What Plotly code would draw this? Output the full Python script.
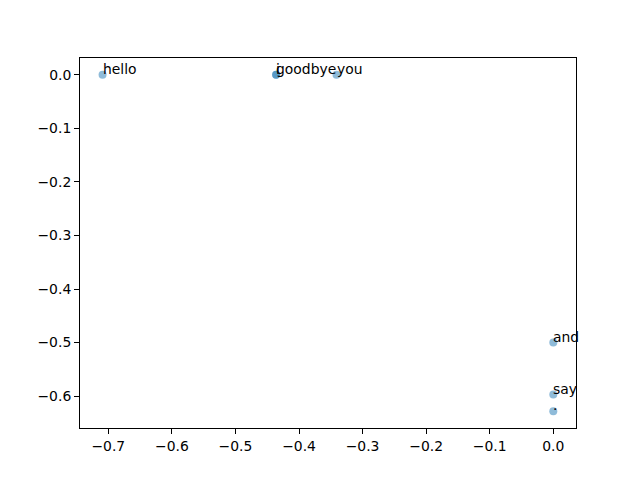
import plotly.graph_objects as go

words = ["you", "say", "goodbye", "and", "i", "hello", "."]
comp0 = [-0.341, 0.0, -0.436, 0.0, -0.436, -0.709, 0.0]
comp1 = [0.0, -0.597, 0.0, -0.500, 0.0, 0.0, -0.628]

fig = go.Figure(
    go.Scatter(
        x=comp0,
        y=comp1,
        mode="markers",
        marker=dict(color="#1f77b4", size=8, opacity=0.5, line=dict(width=0)),
        hoverinfo="skip",
    )
)

# labels sit at each point, left aligned on the baseline like plt.annotate
for w, x, y in zip(words, comp0, comp1):
    fig.add_annotation(
        x=x, y=y, text=w, showarrow=False,
        xanchor="left", yanchor="bottom", xshift=-2, yshift=-4,
        font=dict(family="DejaVu Sans", size=13.9, color="black"),
    )

axis_style = dict(
    showline=True, linecolor="black", linewidth=1, mirror=True,
    ticks="outside", ticklen=5, tickcolor="black", tickwidth=1,
    showgrid=False, zeroline=False, dtick=0.1, tickformat=".1f",
    tickfont=dict(family="DejaVu Sans", size=13.9, color="black"),
)

fig.update_xaxes(range=[-0.7445, 0.0357], **axis_style)
fig.update_yaxes(range=[-0.6595, 0.0314], **axis_style)
# the page body adds an 8px margin, so the figure is drawn 8px smaller
fig.update_layout(
    width=632, height=472,
    margin=dict(l=72, r=64, t=50, b=52),
    plot_bgcolor="white", paper_bgcolor="white",
    showlegend=False,
)
fig.write_html("out.html")
